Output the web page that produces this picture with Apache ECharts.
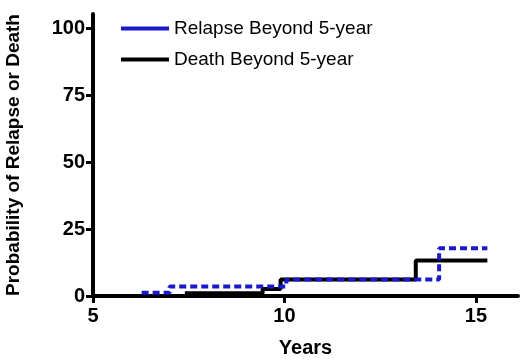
<!DOCTYPE html>
<html>
<head>
<meta charset="utf-8">
<script src="https://cdn.jsdelivr.net/npm/echarts@6/dist/echarts.min.js"></script>
<style>
  html, body { margin: 0; padding: 0; background: #fff; }
  #main { width: 520px; height: 362px; }
</style>
</head>
<body>
<div id="main"></div>
<script>
// step curves: [years, probability %]
const seriesNames = ['Relapse Beyond 5-year', 'Death Beyond 5-year'];
const relapse = [[6.27, 1.2], [7.0, 3.6], [10.05, 6.2], [14.04, 17.9], [15.3, 17.9]];
const death = [[7.4, 1.0], [9.43, 2.6], [9.9, 6.2], [13.43, 13.3], [15.3, 13.3]];
const xTicks = [5, 10, 15];
const yTicks = [0, 25, 50, 75, 100];

let chart = echarts.init(document.getElementById('main'));
const font = 'Liberation Sans, Arial, sans-serif';

const option = {
    animation: false,
    grid: { left: 93, right: 2, top: 14, bottom: 66, outerBoundsMode: 'none', containLabel: false },
    legend: {
        orient: 'vertical',
        left: 116,
        top: 14,
        itemGap: 12,
        itemWidth: 48,
        itemHeight: 20,
        textStyle: { fontFamily: font, fontSize: 19, color: '#000' },
        data: [
            { name: seriesNames[0], icon: 'path://M0,0H48V4H0Z' },
            { name: seriesNames[1], icon: 'path://M0,0H48V4H0Z' }
        ]
    },
    xAxis: {
        type: 'value',
        min: 5, max: 16.1, interval: 5,
        name: 'Years',
        nameLocation: 'middle',
        nameGap: 42,
        nameTextStyle: { fontFamily: font, fontSize: 20, fontWeight: 'bold', color: '#000' },
        axisLine: { onZero: false, lineStyle: { color: '#000', width: 4 } },
        axisTick: { length: 7, lineStyle: { color: '#000', width: 3 } },
        axisLabel: {
            showMaxLabel: false, margin: 10,
            fontFamily: font, fontSize: 20, fontWeight: 'bold', color: '#000',
            formatter: v => xTicks.includes(v) ? String(v) : ''
        },
        splitLine: { show: false }
    },
    yAxis: {
        type: 'value',
        min: 0, max: 105.5, interval: 25,
        name: 'Probability of Relapse or Death',
        nameLocation: 'middle',
        nameGap: 70,
        nameTextStyle: { fontFamily: font, fontSize: 19, fontWeight: 'bold', color: '#000' },
        axisLine: { show: true, lineStyle: { color: '#000', width: 4 } },
        axisTick: { show: true, length: 7, lineStyle: { color: '#000', width: 3 } },
        axisLabel: {
            showMaxLabel: false, margin: 8,
            fontFamily: font, fontSize: 20, fontWeight: 'bold', color: '#000',
            formatter: v => yTicks.includes(v) ? String(v) : ''
        },
        splitLine: { show: false }
    },
    series: [
        {
            name: seriesNames[1],
            type: 'line',
            step: 'end',
            symbol: 'none',
            data: death,
            itemStyle: { color: '#000' },
            lineStyle: { color: '#000', width: 4 },
            z: 2
        },
        {
            name: seriesNames[0],
            type: 'line',
            step: 'end',
            symbol: 'none',
            data: relapse,
            itemStyle: { color: '#1a1acc' },
            lineStyle: { color: '#1a1acc', width: 4, type: [7, 4] },
            z: 3
        }
    ]
};
chart.setOption(option);
</script>
</body>
</html>
